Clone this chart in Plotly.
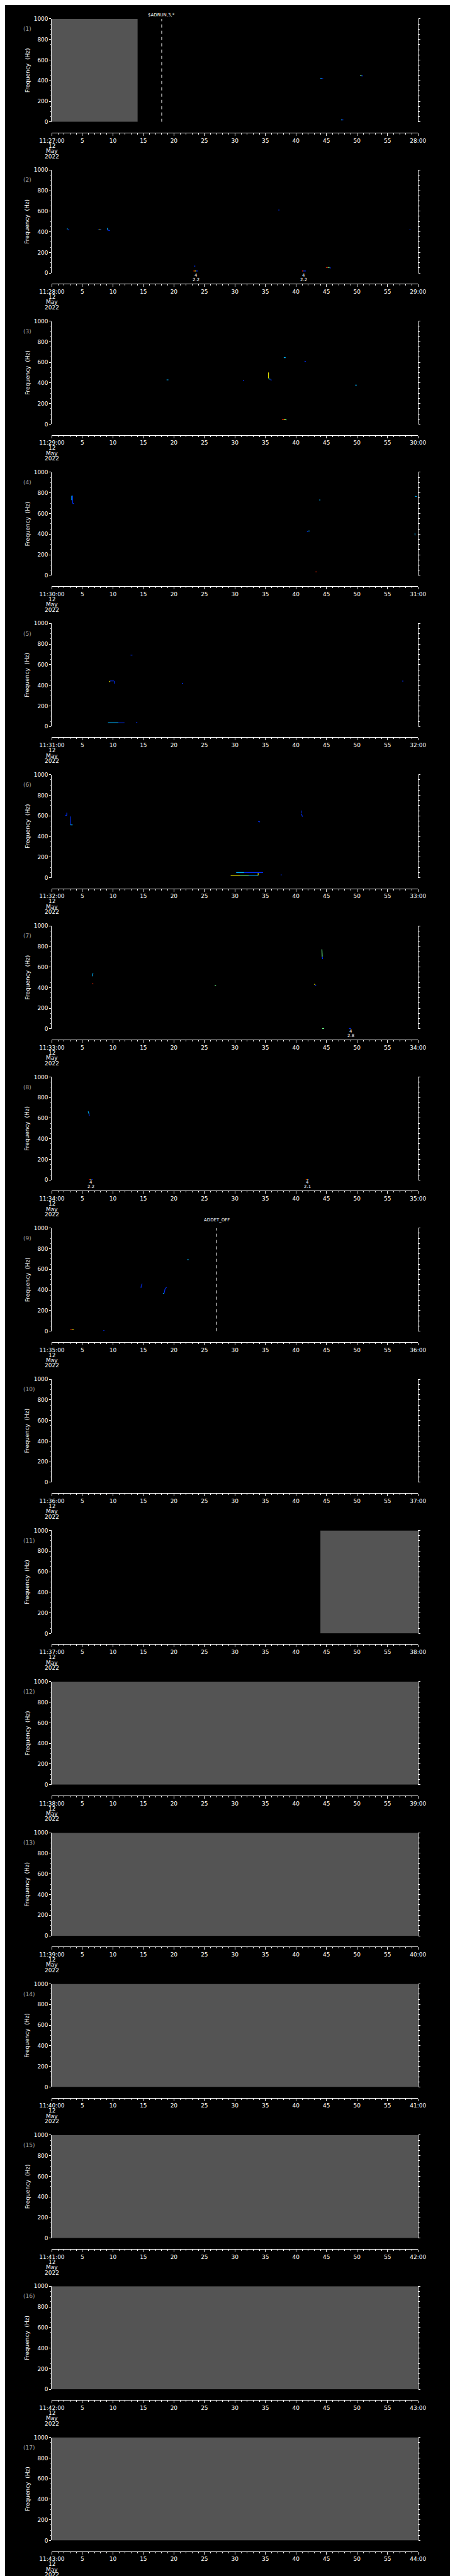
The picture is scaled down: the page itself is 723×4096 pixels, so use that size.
import plotly.graph_objects as go

# ------------------------------------------------------------------ data
panel_hour = 11
panel_minute = [27, 28, 29, 30, 31, 32, 33, 34, 35, 36, 37, 38, 39, 40, 41, 42, 43]
date_lines = ["12", "May", "2022"]
x_tick_seconds = [0, 5, 10, 15, 20, 25, 30, 35, 40, 45, 50, 55, 60]
freq_ticks = [0, 200, 400, 600, 800, 1000]
freq_range = [0, 1000]

# grey "no data" blocks (panel, start s, end s)
gap_panel = [1, 11, 12, 13, 14, 15, 16, 17]
gap_start = [0.0, 44.0, 0.0, 0.0, 0.0, 0.0, 0.0, 0.0]
gap_end = [14.05, 60.0, 60.0, 60.0, 60.0, 60.0, 60.0, 60.0]

# event markers (dashed vertical lines)
event_panel = [1, 9]
event_time = [18.0, 27.0]
event_text = ["$ADRUN,3,*", "ADDET_OFF"]

# small value labels under low-frequency fragments
val_panel = [2, 2, 7, 8, 8]
val_time = [23.6, 41.3, 49.0, 6.4, 41.9]
val_top = ["4", "4", "4", "4", "4"]
val_bottom = ["2.2", "2.2", "2.8", "2.2", "2.1"]

# spectral fragments: panel, t0, t1 (s), f0, f1 (Hz), intensity level 1..5
frag_panel = [1, 1, 1, 1, 1, 1,
              2, 2, 2, 2, 2, 2, 2, 2, 2, 2, 2, 2, 2, 2, 2, 2, 2, 2,
              3, 3, 3, 3, 3, 3, 3, 3, 3, 3, 3,
              4, 4, 4, 4, 4, 4, 4, 4, 4, 4,
              5, 5, 5, 5, 5, 5, 5, 5, 5,
              6, 6, 6, 6, 6, 6, 6, 6, 6, 6, 6, 6, 6, 6,
              7, 7, 7, 7, 7, 7, 7, 7, 7,
              8, 8, 8, 8, 8, 8, 8, 8,
              9, 9, 9, 9, 9, 9, 9, 9, 9]
frag_t0 = [44.0, 44.15, 50.5, 50.7, 47.4, 47.55,
           2.45, 2.65, 7.55, 7.75, 7.95, 9.1, 9.1, 23.3, 23.2, 23.4, 23.6, 37.1, 58.6, 41.0, 41.2, 44.9, 45.2, 45.5,
           18.8, 31.3, 35.5, 35.5, 35.8, 38.0, 41.4, 49.7, 37.7, 38.0, 38.2,
           3.25, 3.25, 3.4, 3.4, 41.8, 42.0, 43.8, 43.2, 59.5, 59.5,
           9.4, 9.55, 10.25, 21.3, 57.4, 9.2, 10.9, 13.8, 12.9,
           2.2, 2.45, 3.05, 3.05, 33.8, 40.85, 40.9, 29.3, 30.8, 32.3, 33.8, 30.2, 31.5, 37.5,
           6.6, 6.6, 26.7, 44.25, 44.3, 43.0, 43.15, 44.3, 48.7,
           5.95, 6.1, 6.1, 6.3, 6.45, 41.6, 41.8, 41.95,
           14.6, 14.65, 18.2, 18.4, 18.55, 22.2, 3.0, 3.3, 8.45]
frag_t1 = [44.2, 44.45, 50.75, 51.0, 47.55, 47.75,
           2.65, 2.85, 7.75, 7.95, 8.1, 9.1, 9.5, 23.5, 23.4, 23.6, 23.9, 37.3, 58.75, 41.2, 41.6, 45.2, 45.5, 45.75,
           19.1, 31.5, 35.5, 35.8, 36.0, 38.3, 41.6, 49.95, 38.0, 38.2, 38.45,
           3.25, 3.4, 3.4, 3.6, 42.0, 42.25, 44.0, 43.4, 59.8, 59.5,
           9.55, 10.2, 10.25, 21.5, 57.6, 10.9, 11.9, 14.0, 13.2,
           2.45, 2.45, 3.05, 3.4, 34.1, 40.85, 41.05, 30.8, 32.3, 33.8, 33.8, 31.5, 34.6, 37.65,
           6.75, 6.8, 26.9, 44.3, 44.35, 43.15, 43.3, 44.6, 49.0,
           6.1, 6.15, 6.3, 6.45, 6.7, 41.8, 41.95, 42.15,
           14.65, 14.8, 18.4, 18.55, 18.8, 22.4, 3.3, 3.6, 8.6]
frag_f0 = [423, 420, 449, 446, 19, 19,
           428, 424, 419, 419, 421, 437, 418, 67, 20, 20, 20, 611, 422, 20, 20, 54, 54, 50,
           430, 422, 502, 440, 432, 646, 612, 379, 48, 48, 45,
           771, 771, 771, 697, 422, 431, 731, 34, 767, 408,
           432, 442, 440, 418, 441, 38, 36, 39, 692,
           605, 605, 594, 512, 545, 652, 620, 22, 22, 22, 22, 50, 50, 27,
           510, 438, 423, 772, 700, 434, 425, 3, 3,
           666, 640, 3, 3, 3, 3, 3, 3,
           420, 440, 365, 368, 410, 694, 15, 15, 6]
frag_f1 = [423, 420, 449, 446, 19, 19,
           428, 416, 419, 419, 421, 420, 412, 67, 20, 20, 20, 611, 422, 20, 20, 54, 54, 50,
           430, 422, 445, 436, 428, 646, 608, 379, 48, 45, 42,
           730, 771, 700, 697, 426, 431, 731, 34, 763, 388,
           442, 442, 416, 420, 441, 38, 36, 39, 692,
           605, 630, 512, 512, 541, 625, 592, 22, 22, 22, 45, 50, 50, 27,
           540, 436, 421, 700, 677, 428, 417, 3, 3,
           640, 622, 3, 3, 3, 3, 3, 3,
           440, 460, 368, 410, 425, 694, 15, 15, 6]
frag_level = [2, 1, 3, 1, 2, 1,
              2, 1, 1, 4, 1, 2, 1, 1, 5, 4, 1, 1, 1, 5, 1, 5, 3, 1,
              2, 1, 4, 2, 1, 2, 1, 2, 5, 4, 3,
              2, 2, 1, 1, 1, 2, 2, 5, 2, 2,
              4, 1, 1, 1, 1, 2, 1, 1, 1,
              1, 1, 1, 2, 1, 1, 1, 4, 3, 2, 4, 2, 1, 1,
              2, 5, 3, 3, 1, 4, 1, 3, 1,
              2, 1, 5, 4, 1, 5, 4, 1,
              1, 1, 2, 1, 1, 2, 5, 4, 1]

# ------------------------------------------------------------------ styles / geometry
REF_W, REF_H = 1024, 5802
W, H = 723, 4096
PLOT_L, PLOT_R = 80.7, 944.3
TOP0, PITCH, PLOT_H, AXIS_DROP = 24.0, 341.3, 232.7, 257.0
EVENT_LABEL_RISE = {1: 8.3, 9: 18.0}

FONT = "DejaVu Sans"
WHITE = "#ffffff"
GREY_TXT = "#a0a0a0"
GAP_COLOR = "#545454"
LEVEL_COLOR = {1: "#0030ff", 2: "#00b4ff", 3: "#70ff8c", 4: "#ffff00", 5: "#ff2400"}
TICK_SIZE = 9


def px(xr):
    return xr / REF_W


def py(yr):
    return 1 - yr / REF_H


def axnames(k):
    return ("x" if k == 1 else f"x{k}", "y" if k == 1 else f"y{k}")


fig = go.Figure()
layout = dict(
    width=W, height=H, autosize=False,
    margin=dict(l=0, r=0, t=0, b=0, pad=0),
    paper_bgcolor="#000000", plot_bgcolor="#000000",
    showlegend=False, font=dict(family=FONT, color=WHITE, size=TICK_SIZE),
)
annotations = []

for i, minute in enumerate(panel_minute):
    k = i + 1
    xa, ya = axnames(k)
    top = TOP0 + PITCH * i
    bot = top + PLOT_H
    axis_y = top + AXIS_DROP
    ticktext = ([f"{panel_hour}:{minute:02d}:00"]
                + [str(s) for s in x_tick_seconds[1:-1]]
                + [f"{minute + 1:02d}:00"])
    layout["xaxis" if k == 1 else f"xaxis{k}"] = dict(
        domain=[px(PLOT_L), px(PLOT_R)], anchor="free", position=py(axis_y),
        range=[0, 60], tickmode="array", tickvals=x_tick_seconds, ticktext=ticktext,
        ticks="outside", ticklen=4, tickwidth=1, tickcolor=WHITE,
        showline=True, linecolor=WHITE, linewidth=1,
        showgrid=False, zeroline=False, fixedrange=True,
        tickfont=dict(family=FONT, size=TICK_SIZE, color=WHITE),
        minor=dict(dtick=1, tick0=0, ticks="outside", ticklen=2, tickwidth=1,
                   tickcolor=WHITE, showgrid=False),
    )
    layout["yaxis" if k == 1 else f"yaxis{k}"] = dict(
        domain=[py(bot), py(top)], anchor=xa, range=freq_range,
        tickmode="array", tickvals=freq_ticks,
        ticks="outside", ticklen=3, tickwidth=1, tickcolor=WHITE,
        showline=True, linecolor=WHITE, linewidth=1, mirror="ticks",
        showgrid=False, zeroline=False, fixedrange=True,
        tickfont=dict(family=FONT, size=TICK_SIZE, color=WHITE),
        minor=dict(dtick=50, tick0=0, ticks="outside", ticklen=1.5, tickwidth=1,
                   tickcolor=WHITE, showgrid=False),
    )
    annotations.append(dict(text=f"({k})", x=px(11.0), y=py(top + 23), xref="paper", yref="paper",
                            xanchor="left", yanchor="middle", showarrow=False,
                            font=dict(family=FONT, size=TICK_SIZE, color=GREY_TXT)))
    annotations.append(dict(text="Frequency  (Hz)", x=px(23), y=py(top + PLOT_H / 2),
                            xref="paper", yref="paper", textangle=-90,
                            xanchor="center", yanchor="middle", showarrow=False,
                            font=dict(family=FONT, size=TICK_SIZE, color=WHITE)))
    for j, line in enumerate(date_lines):
        annotations.append(dict(text=line, x=0, xref=xa, y=py(axis_y + 29.5 + 12 * j), yref="paper",
                                xanchor="center", yanchor="middle", showarrow=False,
                                font=dict(family=FONT, size=TICK_SIZE, color=WHITE)))
    fig.add_trace(go.Scatter(x=[None], y=[None], xaxis=xa, yaxis=ya, mode="lines",
                             hoverinfo="skip"))

for p, t0, t1 in zip(gap_panel, gap_start, gap_end):
    xa, ya = axnames(p)
    fig.add_trace(go.Scatter(
        x=[t0, t1, t1, t0, t0], y=[freq_range[0], freq_range[0], freq_range[1], freq_range[1], freq_range[0]],
        xaxis=xa, yaxis=ya, mode="lines", fill="toself", fillcolor=GAP_COLOR,
        line=dict(width=0, color=GAP_COLOR), hoverinfo="skip"))

groups = {}
for p, t0, t1, f0, f1, lv in zip(frag_panel, frag_t0, frag_t1, frag_f0, frag_f1, frag_level):
    g = groups.setdefault((p, lv), ([], []))
    g[0].extend([t0, t1, None])
    g[1].extend([f0, f1, None])
for (p, lv), (xs, ys) in groups.items():
    xa, ya = axnames(p)
    fig.add_trace(go.Scatter(x=xs, y=ys, xaxis=xa, yaxis=ya, mode="lines",
                             line=dict(color=LEVEL_COLOR[lv], width=1.1), hoverinfo="skip"))

for p, t, txt in zip(event_panel, event_time, event_text):
    xa, ya = axnames(p)
    fig.add_trace(go.Scatter(x=[t, t], y=freq_range, xaxis=xa, yaxis=ya, mode="lines",
                             line=dict(color=WHITE, width=1, dash="5px,5px"), hoverinfo="skip"))
    top = TOP0 + PITCH * (p - 1)
    annotations.append(dict(text=txt, x=t, xref=xa, y=py(top - EVENT_LABEL_RISE[p]), yref="paper",
                            xanchor="center", yanchor="middle", showarrow=False,
                            font=dict(family=FONT, size=7, color=WHITE)))

for p, t, a, b in zip(val_panel, val_time, val_top, val_bottom):
    xa, ya = axnames(p)
    bot = TOP0 + PITCH * (p - 1) + PLOT_H
    for txt, dy in ((a, 5.5), (b, 15.5)):
        annotations.append(dict(text=txt, x=t, xref=xa, y=py(bot + dy), yref="paper",
                                xanchor="center", yanchor="middle", showarrow=False,
                                font=dict(family=FONT, size=7, color=WHITE)))

layout["annotations"] = annotations
fig.update_layout(**layout)
fig.write_html("out.html")
